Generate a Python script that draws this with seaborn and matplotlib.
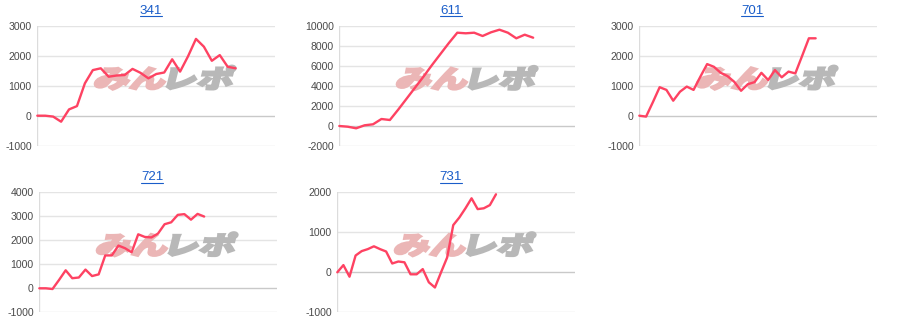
import numpy as np
import pandas as pd
import matplotlib
matplotlib.use("Agg")
import matplotlib.pyplot as plt
import seaborn as sns
from matplotlib.textpath import TextPath
from matplotlib.patches import PathPatch
from matplotlib.font_manager import FontProperties
from matplotlib.transforms import Affine2D, IdentityTransform
from matplotlib.lines import Line2D

# ---------------- data ----------------
titles = ["341", "611", "701", "721", "731"]

s341 = [0, 0, -30, -200, 210, 320, 1080, 1520, 1580, 1300, 1340, 1355, 1560,
        1430, 1245, 1390, 1440, 1880, 1470, 1980, 2560, 2300, 1830, 2020, 1630, 1580]
s611 = [0, -70, -230, 70, 170, 700, 600, 1650, 2750, 3850, 4950, 6100, 7200,
        8300, 9330, 9270, 9330, 9000, 9370, 9630, 9330, 8770, 9130, 8830]
s701 = [0, -30, 450, 950, 860, 500, 800, 970, 860, 1300, 1720, 1630, 1430, 1320,
        1130, 830, 1050, 1120, 1430, 1190, 1520, 1280, 1470, 1410, 1990, 2580, 2580]
s721 = [0, 0, -30, 350, 750, 420, 450, 780, 510, 580, 1370, 1370, 1780, 1670,
        1500, 2250, 2140, 2120, 2280, 2670, 2750, 3060, 3090, 2860, 3100, 2990]
s731 = [0, 180, -110, 420, 530, 580, 650, 580, 520, 220, 270, 250, -50, -50, 80,
        -250, -380, 0, 370, 1180, 1370, 1600, 1850, 1580, 1600, 1680, 1950]

series = [s341, s611, s701, s721, s731]
yticks = [
    [-1000, 0, 1000, 2000, 3000],
    [-2000, 0, 2000, 4000, 6000, 8000, 10000],
    [-1000, 0, 1000, 2000, 3000],
    [-1000, 0, 1000, 2000, 3000, 4000],
    [-1000, 0, 1000, 2000],
]
xmax = [30, 28, 35, 36, 39]

# ---------------- layout (pixels) ----------------
W, H = 900, 332
boxes = [  # left, top, right, bottom
    (37.3, 25.7, 275.3, 145.7),
    (339.3, 26.0, 575.3, 146.0),
    (639.3, 25.7, 876.7, 145.7),
    (39.3, 192.3, 276.7, 312.3),
    (337.3, 192.3, 575.3, 312.3),
]
title_pos = [(151, 11), (451, 11), (752, 11), (152, 177.5), (451, 177.5)]

LINE = "#fe4262"
GRID = "#e4e4e4"
BASE = "#c9c9c9"
TICK = "#4a4a4a"
LINK = "#1a5dc9"

sns.set_theme(style="white")
plt.rcParams["font.family"] = ["Liberation Sans", "DejaVu Sans"]

fig = plt.figure(figsize=(W / 100, H / 100), dpi=100)

fp = FontProperties(family="Noto Sans CJK JP", weight="black")


def add_watermark(ax, left, top):
    p1 = TextPath((0, 0), "みん", size=1, prop=fp)
    p2 = TextPath((0, 0), "レポ", size=1, prop=fp)
    e1 = p1.get_extents()
    e2 = p2.get_extents()
    dx = e1.x1 - e2.x0 + 0.08
    p2 = Affine2D().translate(dx, 0).transform_path(p2)
    e2 = p2.get_extents()
    x0, x1 = min(e1.x0, e2.x0), max(e1.x1, e2.x1)
    y0, y1 = min(e1.y0, e2.y0), max(e1.y1, e2.y1)
    hh = 24.0
    skew = 14
    ww = 143.0 - np.tan(np.radians(skew)) * hh
    bx = left + 56
    by = H - (top + 40 + hh)
    T = (Affine2D().translate(-x0, -y0)
         .scale(ww / (x1 - x0), hh / (y1 - y0))
         .skew_deg(skew, 0)
         .translate(bx, by))
    ax.add_patch(PathPatch(p1, transform=T, facecolor="#ebb6b6", edgecolor="#ebb6b6",
                           lw=1.6, zorder=1.5, clip_on=False))
    ax.add_patch(PathPatch(p2, transform=T, facecolor="#b8b8b8", edgecolor="#b8b8b8",
                           lw=1.6, zorder=1.5, clip_on=False))


for i in range(5):
    l, t, r, b = boxes[i]
    ax = fig.add_axes([l / W, 1 - b / H, (r - l) / W, (b - t) / H])
    vals = series[i]
    df = pd.DataFrame({"x": np.arange(len(vals)), "y": vals})
    for tk in yticks[i]:
        ax.axhline(tk, color=BASE if tk == 0 else GRID, lw=1.0, zorder=1)
    ax.axvline(0, color="#dcdcdc", lw=1.0, zorder=1)
    add_watermark(ax, l, t)
    sns.lineplot(data=df, x="x", y="y", ax=ax, color=LINE, linewidth=1.7,
                 zorder=3, clip_on=False)
    ax.set_xlim(0, xmax[i])
    ax.set_ylim(yticks[i][0], yticks[i][-1])
    ax.set_yticks(yticks[i])
    ax.set_yticklabels([str(v) for v in yticks[i]])
    ax.set_xticks([])
    ax.set_xlabel("")
    ax.set_ylabel("")
    for s in ax.spines.values():
        s.set_visible(False)
    ax.tick_params(axis="y", length=0, pad=4, labelsize=7.6, labelcolor=TICK)
    ax.grid(False)

texts = []
for i in range(5):
    cx, cy = title_pos[i]
    tx = fig.text(cx / W, 1 - cy / H, titles[i], ha="center", va="center",
                  color=LINK, fontsize=9.6)
    texts.append(tx)

fig.canvas.draw()
for i, tx in enumerate(texts):
    bb = tx.get_window_extent()
    cy = title_pos[i][1]
    yline = H - (cy + 5.2)
    ln = Line2D([bb.x0, bb.x1], [yline, yline], color=LINK, lw=0.8,
                transform=IdentityTransform())
    fig.add_artist(ln)

fig.savefig("out.png", dpi=100)
